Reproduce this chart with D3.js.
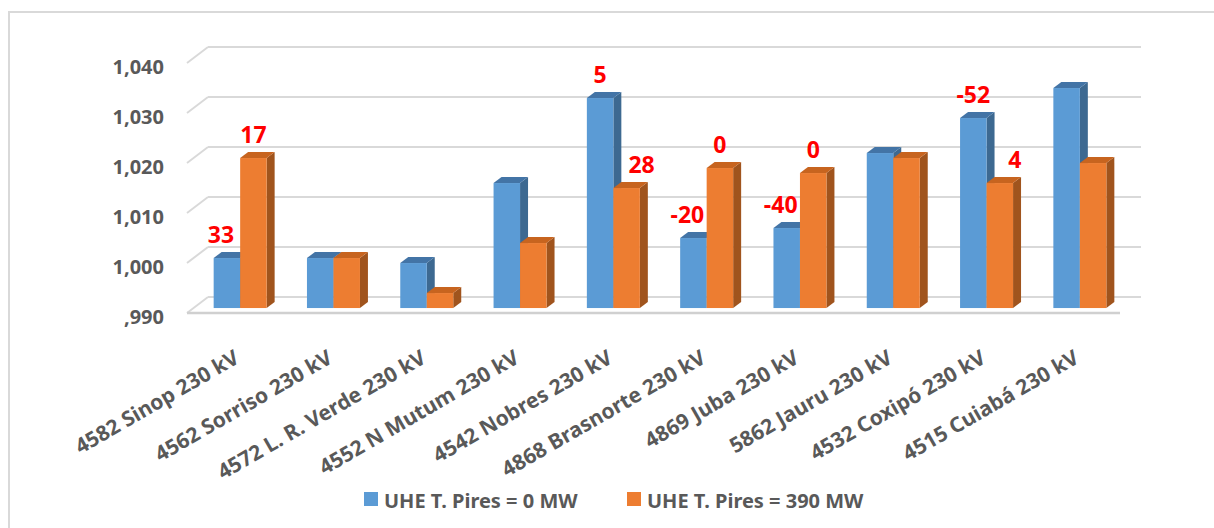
<!DOCTYPE html>
<html>
<head>
<meta charset="utf-8">
<script src="https://cdn.jsdelivr.net/npm/d3@7"></script>
<style>
  html, body { margin: 0; padding: 0; background: #fff; }
  svg { display: block; }
  text { font-family: "Noto Sans", "Open Sans", sans-serif; }
</style>
</head>
<body>
<svg id="chart" width="1214" height="528"></svg>
<script>
// Bus voltages (p.u.) for each 230 kV substation, two dispatch scenarios
const categories = [
  "4582 Sinop 230 kV", "4562 Sorriso 230 kV", "4572 L. R. Verde 230 kV",
  "4552 N Mutum 230 kV", "4542 Nobres 230 kV", "4868 Brasnorte 230 kV",
  "4869 Juba 230 kV", "5862 Jauru 230 kV", "4532 Coxipó 230 kV", "4515 Cuiabá 230 kV"
];
const seriesNames = ["UHE T. Pires = 0 MW", "UHE T. Pires = 390 MW"];
const valuesOff = [1.000, 1.000, 0.999, 1.015, 1.032, 1.004, 1.006, 1.021, 1.028, 1.034];
const valuesOn  = [1.020, 1.000, 0.993, 1.003, 1.014, 1.018, 1.017, 1.020, 1.015, 1.019];
// Red annotations written above the bars (empty = no note)
const notesOff = ["33", "", "", "", "5", "-20", "-40", "", "-52", ""];
const notesOn  = ["17", "", "", "", "28", "0", "0", "", "4", ""];
const yTicks = [0.99, 1.00, 1.01, 1.02, 1.03, 1.04];
const tickLabels = [",990", "1,000", "1,010", "1,020", "1,030", "1,040"];

const svg = d3.select("#chart");

// Chart frame
svg.append("rect").attr("x", 9).attr("y", 12).attr("width", 1230).attr("height", 540)
  .attr("fill", "none").attr("stroke", "#d9d9d9").attr("stroke-width", 2);

// 3D layout: front floor edge, and depth offset of the floor
const baseY = 313;
const floorLeft = 187, floorRight = 1120;
const depth = { dx: 21, dy: -16 };
const barDepthStart = 0.31, barDepthEnd = 0.69;

const x = d3.scaleBand().domain(categories).range([floorLeft, floorRight]).paddingInner(0).paddingOuter(0);
const inner = d3.scaleBand().domain([0, 1]).range([0, 53]);
const h = d3.scaleLinear().domain([0.99, 1.04]).range([0, 250]);

const colors = [
  { front: "#5b9bd5", top: "#4374a6", side: "#3d6991" },
  { front: "#ed7d31", top: "#c7641f", side: "#a0541d" }
];

// Gridlines on back wall + left side wall
const grid = svg.append("g");
yTicks.forEach(t => {
  const yf = baseY - h(t);
  const yb = yf + depth.dy;
  grid.append("line")
    .attr("x1", floorLeft).attr("y1", yf)
    .attr("x2", floorLeft + depth.dx).attr("y2", yb)
    .attr("stroke", "#d9d9d9").attr("stroke-width", 2);
  grid.append("line")
    .attr("x1", floorLeft + depth.dx).attr("y1", yb)
    .attr("x2", floorRight + depth.dx).attr("y2", yb)
    .attr("stroke", "#d9d9d9").attr("stroke-width", 2);
});
// floor front edge
svg.append("line").attr("x1", floorLeft).attr("y1", baseY).attr("x2", floorRight).attr("y2", baseY)
  .attr("stroke", "#d0d0d0").attr("stroke-width", 2.5);

// Y axis labels
svg.append("g").selectAll("text").data(yTicks).join("text")
  .attr("x", 164).attr("y", t => baseY - h(t) + 3)
  .attr("text-anchor", "end").attr("dominant-baseline", "central")
  .attr("font-size", 20).attr("font-weight", "bold").attr("fill", "#595959")
  .text((t, i) => tickLabels[i]);

// Bars
const bdx = depth.dx * (barDepthEnd - barDepthStart);
const bdy = depth.dy * (barDepthEnd - barDepthStart);
const offX = depth.dx * barDepthStart, offY = depth.dy * barDepthStart;
const barsG = svg.append("g");
const series = [valuesOff, valuesOn];
const rows = [];
categories.forEach((c, i) => {
  series.forEach((vals, s) => {
    const x0 = x(c) + x.bandwidth() / 2 - 26.5 + offX + inner(s);
    const w = inner.bandwidth();
    const yb = baseY + offY;
    const yt = yb - h(vals[i]);
    rows.push({ i, s, x0, w, yb, yt });
  });
});
rows.forEach(r => {
  const col = colors[r.s];
  const g = barsG.append("g");
  // side
  g.append("path").attr("d",
    `M${r.x0 + r.w},${r.yb} L${r.x0 + r.w + bdx},${r.yb + bdy} L${r.x0 + r.w + bdx},${r.yt + bdy} L${r.x0 + r.w},${r.yt} Z`)
    .attr("fill", col.side);
  // top
  g.append("path").attr("d",
    `M${r.x0},${r.yt} L${r.x0 + bdx},${r.yt + bdy} L${r.x0 + r.w + bdx},${r.yt + bdy} L${r.x0 + r.w},${r.yt} Z`)
    .attr("fill", col.top);
  // front
  g.append("rect").attr("x", r.x0).attr("y", r.yt).attr("width", r.w).attr("height", r.yb - r.yt)
    .attr("fill", col.front);
});

// Red annotations
const notes = [notesOff, notesOn];
const labG = svg.append("g");
rows.forEach(r => {
  const txt = notes[r.s][r.i];
  if (!txt) return;
  const other = series[1 - r.s][r.i];
  const mine = series[r.s][r.i];
  let shift = 0;
  if (other > mine) shift = r.s === 0 ? -6 : 15;
  labG.append("text")
    .attr("x", r.x0 + r.w / 2 + shift).attr("y", r.yt - 24)
    .attr("text-anchor", "middle").attr("dominant-baseline", "central")
    .attr("font-size", 23).attr("font-weight", "bold").attr("fill", "#ff0000")
    .text(txt);
});

// Category labels, rotated
svg.append("g").selectAll("text").data(categories).join("text")
  .attr("transform", c => `translate(${x(c) + x.bandwidth() / 2 + 7},${362}) rotate(-30)`)
  .attr("text-anchor", "end")
  .attr("font-size", 21).attr("font-weight", "bold").attr("fill", "#595959")
  .text(c => c);

// Legend
const legend = svg.append("g");
const legendPos = [364, 627];
seriesNames.forEach((n, i) => {
  legend.append("rect").attr("x", legendPos[i]).attr("y", 492).attr("width", 14).attr("height", 14)
    .attr("fill", colors[i].front);
  legend.append("text").attr("x", legendPos[i] + 20).attr("y", 500)
    .attr("dominant-baseline", "central")
    .attr("font-size", 20).attr("font-weight", "bold").attr("fill", "#595959")
    .text(n);
});
</script>
</body>
</html>
